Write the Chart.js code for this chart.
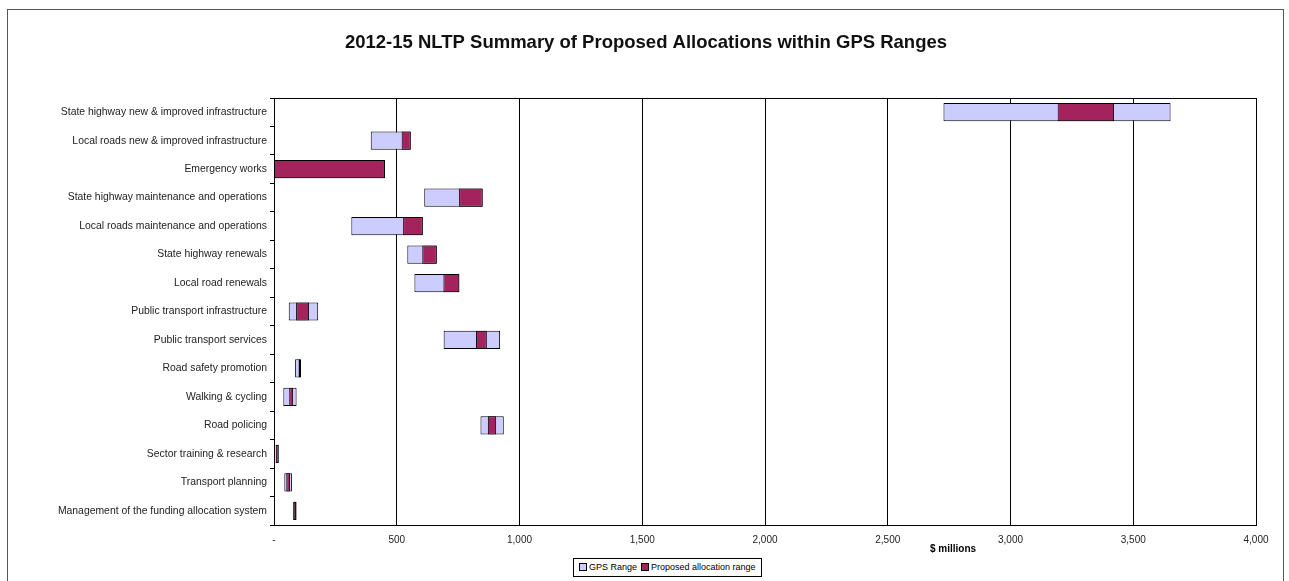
<!DOCTYPE html>
<html>
<head>
<meta charset="utf-8">
<script src="https://cdn.jsdelivr.net/npm/chart.js@4.4.1/dist/chart.umd.min.js"></script>
<style>
  body { margin: 0; background: #fff; }
  #wrap { position: relative; width: 1289px; height: 581px; }
  #legend {
    position: absolute; left: 573px; top: 558px;
    border: 1px solid #000; background: #fff;
    font: 9px "Liberation Sans Narrow", "Liberation Sans", Arial, sans-serif;
    color: #000; padding: 2px 5px; white-space: nowrap; line-height: 13px;
  }
  #legend span.box {
    display: inline-block; width: 6px; height: 6px; border: 1px solid #000;
    margin-right: 2px; vertical-align: -1px;
  }
  #legend span.item { margin-right: 4px; }
  #legend span.item:last-child { margin-right: 0; }
</style>
</head>
<body>
<div id="wrap">
  <canvas id="chart" width="1289" height="581"></canvas>
  <div id="legend"></div>
</div>
<script>
const categories = [
  'State highway new & improved infrastructure',
  'Local roads new & improved infrastructure',
  'Emergency works',
  'State highway maintenance and operations',
  'Local roads maintenance and operations',
  'State highway renewals',
  'Local road renewals',
  'Public transport infrastructure',
  'Public transport services',
  'Road safety promotion',
  'Walking & cycling',
  'Road policing',
  'Sector training & research',
  'Transport planning',
  'Management of the funding allocation system'
];

// $ millions
const gpsLow   = [2727, 394,   0, 612, 315, 543, 572,  60, 691,  86, 38, 841,  7, 42, 78];
const gpsHigh  = [3652, 557, 452, 850, 606, 663, 755, 180, 921, 110, 92, 936, 19, 73, 92];
const propLow  = [3192, 520,   0, 754, 526, 604, 690,  90, 823, 100, 62, 871,  7, 50, 80];
const propHigh = [3422, 557, 452, 850, 606, 663, 755, 143, 867, 108, 78, 905, 19, 65, 90];

const xTicks = [0, 500, 1000, 1500, 2000, 2500, 3000, 3500, 4000];

const lavender = '#ccccff';
const plum = '#a3245c';

// frame, plot border and the "$ millions" note
const extras = {
  id: 'extras',
  afterDraw(chart) {
    const ctx = chart.ctx;
    const a = chart.chartArea;
    ctx.save();
    ctx.strokeStyle = '#000';
    ctx.lineWidth = 1;
    ctx.strokeRect(Math.round(a.left) + 0.5, Math.round(a.top) + 0.5,
      Math.round(a.right - a.left), Math.round(a.bottom - a.top));
    ctx.strokeStyle = '#555';
    ctx.strokeRect(7.5, 9.5, 1276, 600);
    ctx.fillStyle = '#000';
    ctx.font = 'bold 10px "Liberation Sans Narrow", "Liberation Sans", Arial, sans-serif';
    ctx.textAlign = 'center';
    ctx.textBaseline = 'middle';
    ctx.fillText('$ millions', 953, 549);
    ctx.restore();
  }
};

const pair = (lo, hi) => lo.map((v, i) => [v, hi[i]]);

const chart = new Chart(document.getElementById('chart').getContext('2d'), {
  type: 'bar',
  data: {
    labels: categories,
    datasets: [{
      label: 'GPS Range',
      data: pair(gpsLow, gpsHigh),
      backgroundColor: lavender,
      borderColor: '#000',
      borderWidth: 1,
      borderSkipped: false,
      grouped: false,
      order: 1,
      categoryPercentage: 0.64,
      barPercentage: 1
    }, {
      label: 'Proposed allocation range',
      data: pair(propLow, propHigh),
      backgroundColor: plum,
      borderColor: '#000',
      borderWidth: 1,
      borderSkipped: false,
      grouped: false,
      order: 0,
      categoryPercentage: 0.64,
      barPercentage: 1
    }]
  },
  options: {
    indexAxis: 'y',
    responsive: false,
    animation: false,
    devicePixelRatio: 1,
    layout: { padding: { left: 36, right: 33, top: 0, bottom: 0 } },
    plugins: {
      legend: { display: false },
      tooltip: { enabled: false },
      title: {
        display: true,
        text: '2012-15 NLTP Summary of Proposed Allocations within GPS Ranges',
        color: '#111',
        font: { family: '"Liberation Sans Narrow", "Liberation Sans", Arial, sans-serif', size: 18.5, weight: 'bold' },
        padding: { top: 32, bottom: 43.8 }
      }
    },
    scales: {
      x: {
        min: 0,
        max: 4000,
        afterBuildTicks: (s) => { s.ticks = xTicks.map(v => ({ value: v })); },
        afterFit: (s) => { s.height = 56; },
        ticks: {
          color: '#222',
          padding: 9,
          font: { family: '"Liberation Sans Narrow", "Liberation Sans", Arial, sans-serif', size: 10 },
          callback: (v) => v === 0 ? '-' : v.toLocaleString('en-US')
        },
        grid: { color: '#000', drawTicks: false },
        border: { color: '#000' }
      },
      y: {
        afterFit: (s) => { s.width = 238; },
        ticks: {
          color: '#222',
          padding: 3,
          font: { family: '"Liberation Sans", Arial, sans-serif', size: 10.4 }
        },
        grid: { offset: true, drawOnChartArea: false, drawTicks: true, tickLength: 4, color: '#000' },
        border: { color: '#000' }
      }
    }
  },
  plugins: [extras]
});

// html legend built from the datasets
document.getElementById('legend').innerHTML = chart.data.datasets.map(ds =>
  '<span class="item"><span class="box" style="background:' + ds.backgroundColor + '"></span>' + ds.label + '</span>'
).join('');
</script>
</body>
</html>
